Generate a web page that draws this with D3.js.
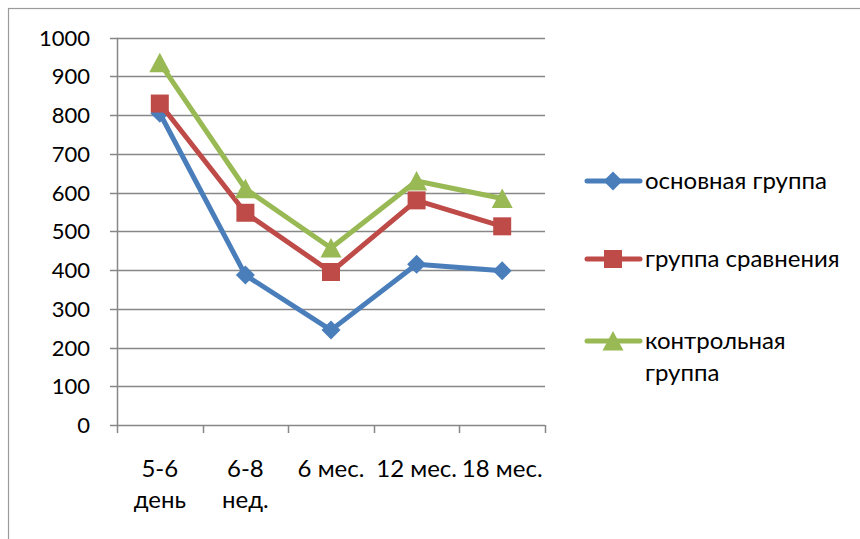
<!DOCTYPE html>
<html>
<head>
<meta charset="utf-8">
<script src="https://cdn.jsdelivr.net/npm/d3@7"></script>
<style>
  html, body { margin: 0; padding: 0; background: #fff; }
  svg { display: block; }
  text { font-family: Lato, "Open Sans", sans-serif; fill: #000; }
</style>
</head>
<body>
<script>
const categories = [["5-6", "день"], ["6-8", "нед."], ["6 мес."], ["12 мес."], ["18 мес."]];
const seriesNames = ["основная группа", "группа сравнения", ["контрольная", "группа"]];
const mainGroup = [805, 387, 245, 415, 398];
const comparisonGroup = [830, 548, 395, 580, 513];
const controlGroup = [935, 610, 457, 630, 585];
const yTicks = [0, 100, 200, 300, 400, 500, 600, 700, 800, 900, 1000];

const colors = ["#4A7EBB", "#BE4B48", "#98B954"];
const symbols = ["diamond", "square", "triangle"];
const seriesValues = [mainGroup, comparisonGroup, controlGroup];

const W = 860, H = 539;
const svg = d3.select("body").append("svg").attr("width", W).attr("height", H);

// chart frame
svg.append("rect").attr("x", 8.5).attr("y", 8.5).attr("width", W + 20).attr("height", H + 20)
  .attr("fill", "none").attr("stroke", "#9a9a9a").attr("stroke-width", 1.2);

const x = d3.scaleBand().domain(categories.map((c, i) => i)).range([117, 545]).padding(0);
const y = d3.scaleLinear().domain([0, 1000]).range([425, 37.7]);

// gridlines
svg.append("g").selectAll("line").data(yTicks).join("line")
  .attr("x1", 110).attr("x2", 545)
  .attr("y1", d => Math.round(y(d)) + 0.5).attr("y2", d => Math.round(y(d)) + 0.5)
  .attr("stroke", "#878787").attr("stroke-width", 1.5);

// y axis line
svg.append("line").attr("x1", 117.5).attr("x2", 117.5).attr("y1", y(1000)).attr("y2", y(0))
  .attr("stroke", "#878787").attr("stroke-width", 1.5);

// x tick marks at band boundaries
const boundaries = categories.map((c, i) => x(i)).concat([x.range()[1]]);
svg.append("g").selectAll("line").data(boundaries).join("line")
  .attr("x1", d => Math.round(d) + 0.5).attr("x2", d => Math.round(d) + 0.5)
  .attr("y1", y(0)).attr("y2", y(0) + 8)
  .attr("stroke", "#878787").attr("stroke-width", 1.5);

// y labels
svg.append("g").selectAll("text").data(yTicks).join("text")
  .attr("x", 90).attr("y", d => y(d) + 8)
  .attr("text-anchor", "end").attr("font-size", 22).text(d => d);

// x labels
const xl = svg.append("g").selectAll("text").data(categories).join("text")
  .attr("x", (d, i) => x(i) + x.bandwidth() / 2)
  .attr("y", 477).attr("text-anchor", "middle").attr("font-size", 24);
xl.each(function(d) {
  const t = d3.select(this);
  const cx = t.attr("x");
  d.forEach((line, k) => {
    t.append("tspan").attr("x", cx).attr("dy", k === 0 ? 0 : 31).text(line);
  });
});

function markerPath(type) {
  if (type === "diamond") return "M0,-9.5L9.5,0L0,9.5L-9.5,0Z";
  if (type === "square") return "M-9,-9L9,-9L9,9L-9,9Z";
  return "M0,-10L10.5,9.5L-10.5,9.5Z";
}

const line = d3.line().x((d, i) => x(i) + x.bandwidth() / 2).y(d => y(d));

seriesValues.forEach((vals, s) => {
  const g = svg.append("g");
  g.append("path").datum(vals).attr("d", line)
    .attr("fill", "none").attr("stroke", colors[s]).attr("stroke-width", 5)
    .attr("stroke-linejoin", "round");
  g.selectAll("path.m").data(vals).join("path").attr("class", "m")
    .attr("transform", (d, i) => `translate(${x(i) + x.bandwidth() / 2},${y(d)})`)
    .attr("d", markerPath(symbols[s])).attr("fill", colors[s]);
});

// legend
const legendY = [181, 259, 341];
seriesNames.forEach((name, s) => {
  const g = svg.append("g").attr("transform", `translate(0,${legendY[s]})`);
  g.append("line").attr("x1", 587).attr("x2", 640).attr("y1", 0).attr("y2", 0)
    .attr("stroke", colors[s]).attr("stroke-width", 5).attr("stroke-linecap", "round");
  g.append("path").attr("transform", "translate(613,0)").attr("d", markerPath(symbols[s]))
    .attr("fill", colors[s]);
  const t = g.append("text").attr("x", 645).attr("y", 8).attr("font-size", 24);
  const lines = Array.isArray(name) ? name : [name];
  lines.forEach((ln, k) => t.append("tspan").attr("x", 645).attr("dy", k === 0 ? 0 : 32).text(ln));
});
</script>
</body>
</html>
